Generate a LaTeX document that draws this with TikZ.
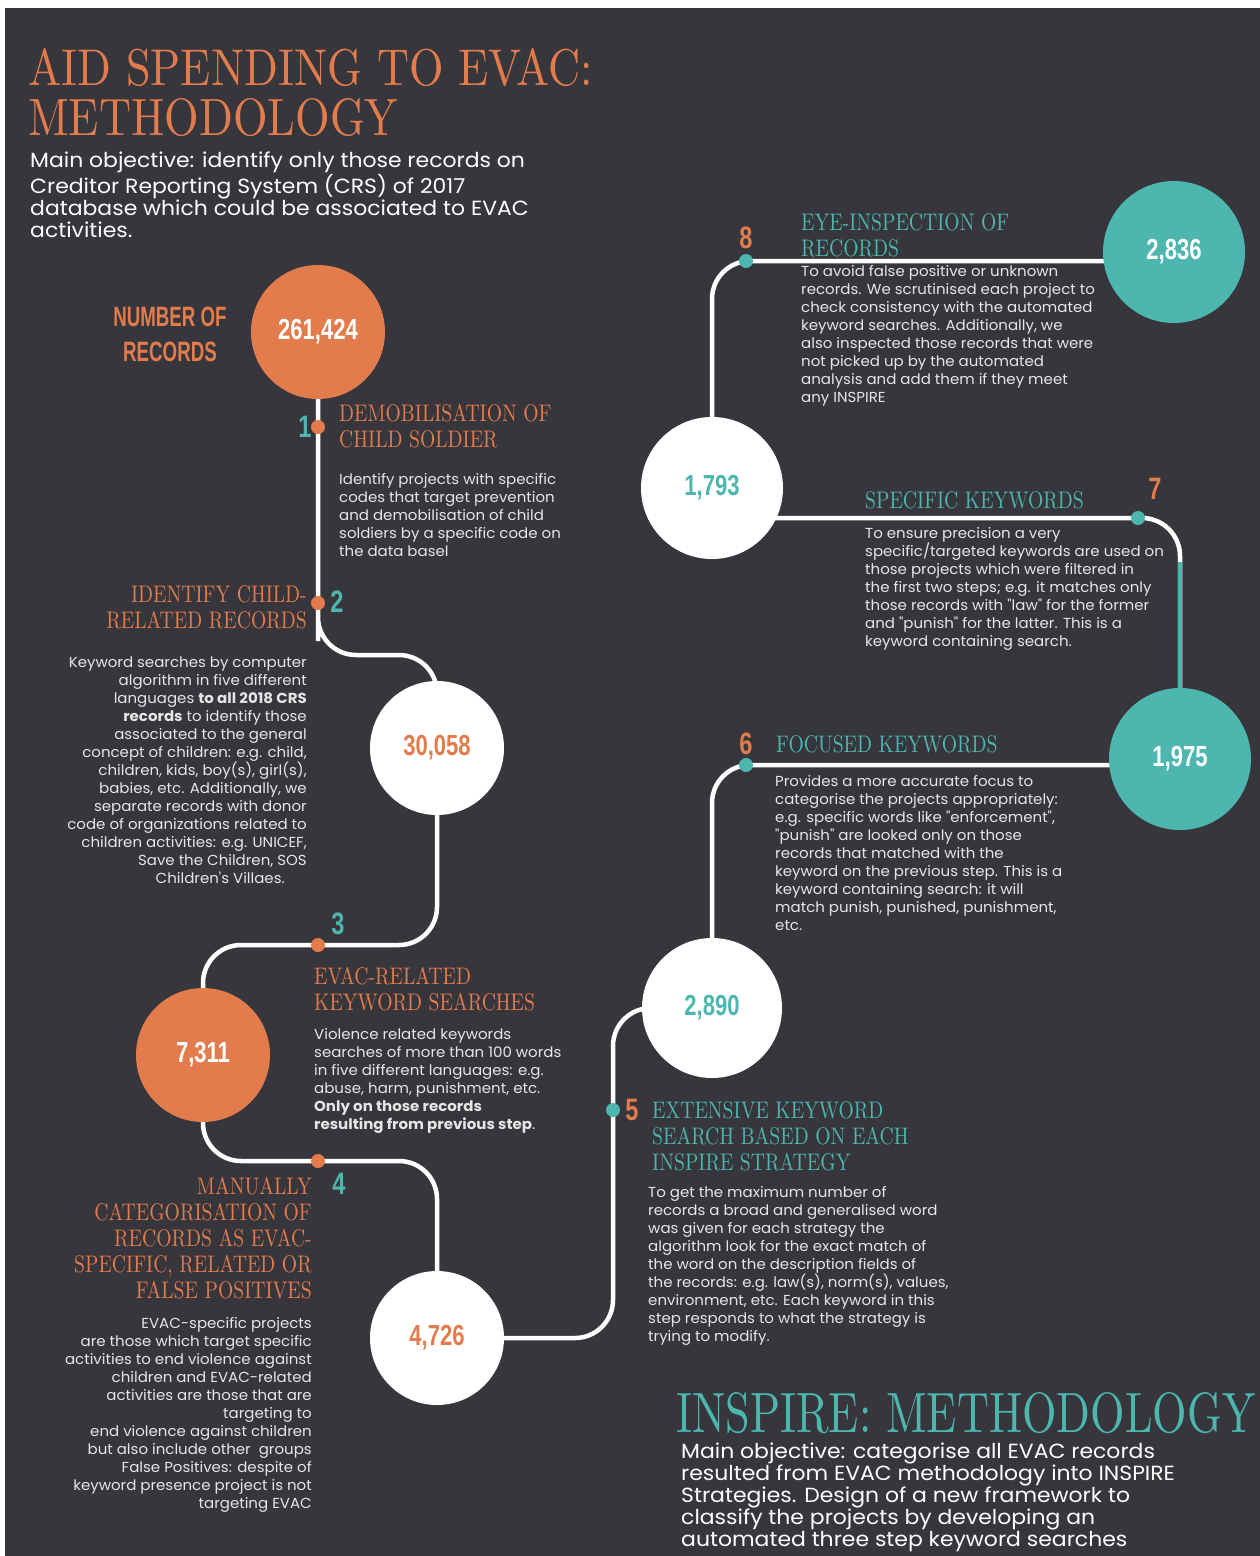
\documentclass[tikz,border=0pt]{standalone}
\usepackage{fontspec}
\setmainfont{Poppins}[FakeStretch=1.07]
\newfontfamily\bodyfont{Poppins}[FakeStretch=1.035]
\newfontfamily\didone{lmroman10-regular}[Extension=.otf, FakeStretch=0.82]
\newfontfamily\didtitle{lmroman10-regular}[Extension=.otf]
\newfontfamily\numfont{Liberation Sans}[FakeStretch=0.76]
\definecolor{bgc}{HTML}{37363C}
\definecolor{orng}{HTML}{E27C4C}
\definecolor{tealc}{HTML}{4DB6AE}
\definecolor{bodyc}{HTML}{E6E6E6}
\pgfdeclarelayer{bg}
\pgfdeclarelayer{lines}
\pgfsetlayers{bg,lines,main}
\tikzset{
  bignum/.style={circle, inner sep=0pt, minimum size=134pt, font=\numfont\bfseries\fontsize{29}{29}\selectfont},
  dotnode/.style={circle, inner sep=0pt, minimum size=14pt},
  stepnum/.style={inner sep=0pt, font=\numfont\bfseries\fontsize{31}{31}\selectfont},
  headL/.style={inner sep=0pt, align=left, anchor=base west, font=\didone\fontsize{24}{26}\selectfont},
  headR/.style={inner sep=0pt, align=right, anchor=base east, font=\didone\fontsize{24}{26}\selectfont},
  bodyL/.style={inner sep=0pt, align=left, anchor=base west, text=bodyc, font=\bodyfont\fontsize{14.5}{18}\selectfont},
  bodyR/.style={inner sep=0pt, align=right, anchor=base east, text=bodyc, font=\bodyfont\fontsize{14.5}{18}\selectfont},
  objtext/.style={inner sep=0pt, align=left, anchor=base west, text=white, font=\fontsize{20.5}{22}\selectfont},
  conn/.style={draw=white, line width=4.5pt, rounded corners=38pt},
}
\begin{document}
\begin{tikzpicture}[x=1pt,y=-1pt]
\useasboundingbox (0,0) rectangle (1260,1556);
\begin{pgfonlayer}{bg}
\fill[white] (0,0) rectangle (1260,1556);
\fill[bgc] (5,8) rectangle (1260,1556);
\end{pgfonlayer}

% titles (multi-line nodes are anchored at the baseline of their last line)
\node[inner sep=0pt, anchor=base west, text=orng] (t1) at (28,85) {\resizebox{565pt}{37pt}{\didtitle AID SPENDING TO EVAC:}};
\node[inner sep=0pt, anchor=base west, text=orng] (t2) at (28,135) {\resizebox{370pt}{37pt}{\didtitle METHODOLOGY}};
\node[objtext] (obj1) at (30,237) {Main objective: identify only those records on\\Creditor Reporting System (CRS) of 2017\\database which could be associated to EVAC\\activities.};

\node[inner sep=0pt, anchor=base west, text=tealc] (t3) at (676,1432) {\resizebox{579pt}{40pt}{\didtitle INSPIRE: METHODOLOGY}};
\node[objtext] (obj2) at (681,1546) {Main objective: categorise all EVAC records\\resulted from EVAC methodology into INSPIRE\\Strategies. Design of a new framework to\\classify the projects by developing an\\automated three step keyword searches};

% circles
\node[bignum, fill=orng, text=white] (c1) at (318,332) {261,424};
\node[bignum, fill=white, text=orng] (c2) at (437,748) {30,058};
\node[bignum, fill=orng, text=white] (c3) at (203,1055) {7,311};
\node[bignum, fill=white, text=orng] (c4) at (437,1338) {4,726};
\node[bignum, fill=white, text=tealc, minimum size=140pt] (c5) at (712,1008) {2,890};
\node[bignum, fill=tealc, text=white, minimum size=142pt] (c6) at (1180,759) {1,975};
\node[bignum, fill=white, text=tealc, minimum size=142pt] (c7) at (712,488) {1,793};
\node[bignum, fill=tealc, text=white, minimum size=142pt] (c8) at (1174,252) {2,836};

\node[inner sep=0pt, align=center, text=orng, font=\numfont\bfseries\fontsize{28}{35}\selectfont] (nr) at (170,334) {\scalebox{0.88}[1]{NUMBER OF}\\\scalebox{0.88}[1]{RECORDS}};

% dots
\node[dotnode, fill=orng] (d1) at (318,427) {};
\node[dotnode, fill=orng] (d2) at (318,603) {};
\node[dotnode, fill=orng] (d3) at (318,945) {};
\node[dotnode, fill=orng] (d4) at (318,1161) {};
\node[dotnode, fill=tealc] (d5) at (613,1110) {};
\node[dotnode, fill=tealc] (d6) at (746,765) {};
\node[dotnode, fill=tealc] (d7) at (1138,518) {};
\node[dotnode, fill=tealc] (d8) at (746,261) {};

% connectors
\begin{pgfonlayer}{lines}
\draw[conn] (c1.center) -- (d1.center) -- (d2.center) -- ++(0,52) -| (c2.center);
\draw[conn] (c2.center) |- (d3.center) -| (c3.center);
\draw[conn] (c3.center) |- (d4.center) -| (c4.center);
\draw[conn] (c4.center) -| (d5.center) |- (c5.center);
\draw[conn] (c5.center) |- (d6.center -| c6.center);
\draw[conn] (c6.center) |- (d7.center -| c7.center);
\draw[conn] (c7.center) |- (d8.center -| c8.center);
\draw[draw=tealc, line width=4.5pt] (c6.north) -- ++(0,-126);
\end{pgfonlayer}

% step numbers
\node[stepnum, text=tealc] (n1) at (305,427) {1};
\node[stepnum, text=tealc] (n2) at (337,602) {2};
\node[stepnum, text=tealc] (n3) at (338,924) {3};
\node[stepnum, text=tealc] (n4) at (339,1184) {4};
\node[stepnum, text=orng] (n5) at (632,1110) {5};
\node[stepnum, text=orng] (n6) at (746,744) {6};
\node[stepnum, text=orng] (n7) at (1155,489) {7};
\node[stepnum, text=orng] (n8) at (746,238) {8};

% step 1
\node[headL, text=orng] (h1) at (339,447) {DEMOBILISATION OF\\CHILD SOLDIER};
\node[bodyL] (b1) at (339,556) {Identify projects with specific\\codes that target prevention\\and demobilisation of child\\soldiers by a specific code on\\the data basel};

% step 2
\node[headR, text=orng] (h2) at (307,628) {IDENTIFY CHILD-\\RELATED RECORDS};
\node[bodyR] (b2) at (307,883) {Keyword searches by computer\\algorithm in five different\\languages \textbf{to all 2018 CRS}\\\textbf{records} to identify those\\associated to the general\\concept of children: e.g. child,\\children, kids, boy(s), girl(s),\\babies, etc. Additionally, we\\separate records with donor\\code of organizations related to\\children activities: e.g. UNICEF,\\Save the Children, SOS\\Children's Villaes.\hspace*{22pt}};

% step 3
\node[headL, text=orng] (h3) at (314,1010) {EVAC-RELATED\\KEYWORD SEARCHES};
\node[bodyL] (b3) at (314,1129) {Violence related keywords\\searches of more than 100 words\\in five different languages: e.g.\\abuse, harm, punishment, etc.\\\textbf{Only on those records}\\\textbf{resulting from previous step}.};

% step 4
\node[headR, text=orng] (h4) at (312,1298) {MANUALLY\\CATEGORISATION OF\\RECORDS AS EVAC-\\SPECIFIC, RELATED OR\\FALSE POSITIVES};
\node[bodyR] (b4) at (312,1508) {EVAC-specific projects\\are those which target specific\\activities to end violence against\\children and EVAC-related\\activities are those that are\\targeting to\\end violence against children\\but also include other\ \ groups\\False Positives: despite of\\keyword presence project is not\\targeting EVAC};

% step 5
\node[headL, text=tealc] (h5) at (652,1170) {EXTENSIVE KEYWORD\\SEARCH BASED ON EACH\\INSPIRE STRATEGY};
\node[bodyL] (b5) at (648,1341) {To get the maximum number of\\records a broad and generalised word\\was given for each strategy the\\algorithm look for the exact match of\\the word on the description fields of\\the records: e.g. law(s), norm(s), values,\\environment, etc. Each keyword in this\\step responds to what the strategy is\\trying to modify.};

% step 6
\node[headL, text=tealc] (h6) at (776,752) {FOCUSED KEYWORDS};
\node[bodyL] (b6) at (775,930) {Provides a more accurate focus to\\categorise the projects appropriately:\\e.g. specific words like "enforcement",\\"punish" are looked only on those\\records that matched with the\\keyword on the previous step. This is a\\keyword containing search: it will\\match punish, punished, punishment,\\etc.};

% step 7
\node[headL, text=tealc] (h7) at (865,508) {SPECIFIC KEYWORDS};
\node[bodyL] (b7) at (865,646) {To ensure precision a very\\specific/targeted keywords are used on\\those projects which were filtered in\\the first two steps; e.g. it matches only\\those records with "law" for the former\\and "punish" for the latter. This is a\\keyword containing search.};

% step 8
\node[headL, text=tealc] (h8) at (801,256) {EYE-INSPECTION OF\\RECORDS};
\node[bodyL] (b8) at (801,402) {To avoid false positive or unknown\\records. We scrutinised each project to\\check consistency with the automated\\keyword searches. Additionally, we\\also inspected those records that were\\not picked up by the automated\\analysis and add them if they meet\\any INSPIRE};
\end{tikzpicture}
\end{document}
